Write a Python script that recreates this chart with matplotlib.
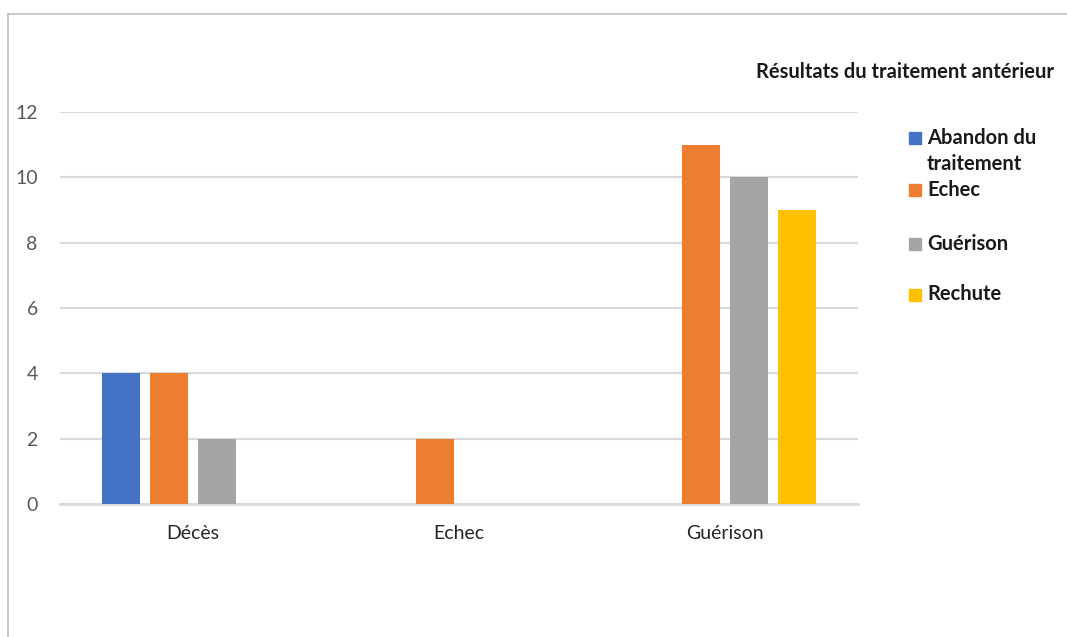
import numpy as np
import matplotlib
matplotlib.use("Agg")
import matplotlib.pyplot as plt
from matplotlib.lines import Line2D
from matplotlib.patches import Rectangle

plt.rcParams['font.family'] = ['Lato', 'DejaVu Sans']

categories = ['Décès', 'Echec', 'Guérison']
series_names = ['Abandon du\ntraitement', 'Echec', 'Guérison', 'Rechute']
abandon = [4, 0, 0]
echec = [4, 2, 11]
guerison = [2, 0, 10]
rechute = [0, 0, 9]
colors = ['#4472C4', '#ED7D31', '#A5A5A5', '#FFC000']
legend_title = 'Résultats du traitement antérieur'

W, H = 1067, 637
fig = plt.figure(figsize=(W / 100, H / 100), dpi=100)
ax = fig.add_axes([60 / W, 1 - 504 / H, 798 / W, 392 / H])

x = np.arange(len(categories))
step = 0.18
width = 0.143
for i, (vals, c) in enumerate(zip([abandon, echec, guerison, rechute], colors)):
    ax.bar(x + (i - 1.5) * step, vals, width, color=c, zorder=3)

ax.set_xlim(-0.5, 2.5)
ax.set_ylim(0, 12)
ax.set_yticks(range(0, 13, 2))
ax.set_xticks(x)
ax.set_xticklabels(categories)
ax.grid(axis='y', color='#d9d9d9', linewidth=1.5, zorder=0)
for s in ['top', 'right', 'left']:
    ax.spines[s].set_visible(False)
ax.spines['bottom'].set_color('#d9d9d9')
ax.spines['bottom'].set_linewidth(2)
ax.tick_params(axis='both', length=0, labelsize=14, labelcolor='#595959')
ax.tick_params(axis='y', pad=16)
ax.tick_params(axis='x', pad=15, labelcolor='#262626')

# legend laid out by hand, Excel style
fig.text(905 / W, 1 - 72 / H, legend_title, ha='center', va='center',
         fontsize=14.5, fontweight='bold', color='#1a1a1a')
centers = [138, 189.5, 243.5, 294.5]
for name, c, yc in zip(series_names, colors, centers):
    fig.patches.append(Rectangle((909 / W, 1 - (yc + 6) / H), 12 / W, 12 / H,
                                 color=c, transform=fig.transFigure))
    for k, line in enumerate(name.split('\n')):
        fig.text(927 / W, 1 - (yc + 6 + 26 * k) / H, line, ha='left', va='baseline',
                 fontsize=14.5, fontweight='bold', color='#1a1a1a')

# outer frame (top and left edges)
fig.lines.append(Line2D([8 / W, 1], [1 - 14 / H, 1 - 14 / H], color='#bfbfbf',
                        linewidth=1.2, transform=fig.transFigure))
fig.lines.append(Line2D([8 / W, 8 / W], [0, 1 - 14 / H], color='#bfbfbf',
                        linewidth=1.2, transform=fig.transFigure))

fig.savefig('out.png', dpi=100, facecolor='white')
